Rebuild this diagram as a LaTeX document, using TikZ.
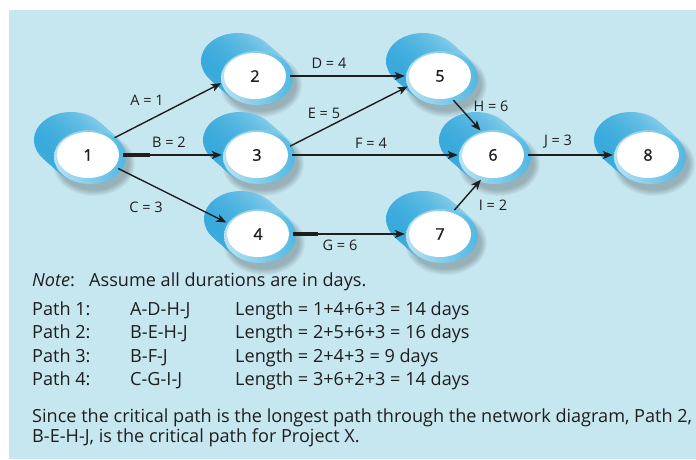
\documentclass[tikz,border=0pt]{standalone}
\usepackage{fontspec}
\setmainfont{Open Sans}
\newfontfamily\digitfont[FakeBold=1.3]{Open Sans}
\usetikzlibrary{arrows.meta,shapes.geometric}
\definecolor{bg}{RGB}{198,230,240}
\definecolor{cylL}{RGB}{58,170,220}
\definecolor{cylR}{RGB}{150,212,236}
\definecolor{rimL}{RGB}{185,226,242}
\definecolor{rimR}{RGB}{80,184,226}
\definecolor{ink}{RGB}{30,30,30}
\tikzset{
  conn/.style={shape=ellipse,minimum width=70pt,minimum height=52pt,inner sep=0pt,font=\digitfont\fontsize{16}{18}\selectfont,text=ink},
  arr/.style={draw=ink,line width=1.4pt,-{Stealth[length=10pt,width=8pt,inset=2.5pt]}},
  thick seg/.style={draw=ink,line width=3.4pt},
  lab/.style={font=\fontsize{14.5}{16}\selectfont,text=ink,inner sep=0pt},
  txt/.style={font=\fontsize{18.1}{20}\selectfont,text=ink,inner sep=0pt,anchor=base west},
}
\newcommand\cylnode[4]{%
  \begin{scope}[shift={(#2,#3)}]
    \foreach \s in {0,...,6} \fill[black,opacity=0.035] (6,9) ellipse [x radius=35pt+\s pt, y radius=26pt+\s pt];
    \foreach \t in {0,0.0625,...,1.01} \shade[left color=cylL,right color=cylR] ({-17+17*\t},{-15+15*\t}) ellipse [x radius=37pt,y radius=28pt];
    \shade[left color=rimL,right color=rimR] (2,2) ellipse [x radius=36pt,y radius=27pt];
    \fill[white] (0,0) ellipse [x radius=31pt,y radius=23pt];
  \end{scope}
  \node[conn] (#1) at (#2,#3) {#4};
}
\begin{document}
\begin{tikzpicture}[x=1pt,y=-1pt]
\useasboundingbox (0,0) rectangle (696,459);
\fill[white] (0,0) rectangle (696,459);
\fill[bg] (9,10) rectangle (696,459);

\cylnode{n1}{88}{155}{1}
\cylnode{n2}{255}{76}{2}
\cylnode{n3}{257}{155}{3}
\cylnode{n4}{258}{234}{4}
\cylnode{n5}{440}{76}{5}
\cylnode{n6}{493}{155}{6}
\cylnode{n7}{440}{234}{7}
\cylnode{n8}{648}{155}{8}

\draw[arr] (n1.33) -- (n2.192);
\draw[arr] (n1.0) -- (n3.180);
\draw[thick seg] (n1.0) -- ++(27,0);
\draw[arr] (n1.336) -- (n4.160);
\draw[arr] (n2.0) -- (n5.180);
\draw[arr] (n3.15) -- (n5.198);
\draw[arr] (n3.0) -- (n6.180);
\draw[arr] (n4.0) -- (n7.180);
\draw[thick seg] (n4.0) -- ++(25,0);
\draw[arr] (n5.299) -- (n6.117);
\draw[arr] (n7.59) -- (n6.244);
\draw[arr] (n6.0) -- (n8.180);

\node[lab] (lA) at (147,100) {A = 1};
\node[lab] (lB) at (169,142) {B = 2};
\node[lab] (lC) at (146,207) {C = 3};
\node[lab] (lD) at (329,63) {D = 4};
\node[lab] (lE) at (324,113) {E = 5};
\node[lab] (lF) at (371,143) {F = 4};
\node[lab] (lG) at (340,245) {G = 6};
\node[lab] (lH) at (491,106) {H = 6};
\node[lab] (lI) at (493,205) {I = 2};
\node[lab] (lJ) at (558,142) {J = 3};

\node[txt] (note) at (32,286) {\textit{Note}:};
\node[txt] (assume) at (89,286) {Assume all durations are in days.};
\node[txt] (p1) at (32,315) {Path 1:};
\node[txt] (p1a) at (130,315) {A-D-H-J};
\node[txt] (p1b) at (235,315) {Length = 1+4+6+3 = 14 days};
\node[txt] (p2) at (32,338) {Path 2:};
\node[txt] (p2a) at (130,338) {B-E-H-J};
\node[txt] (p2b) at (235,338) {Length = 2+5+6+3 = 16 days};
\node[txt] (p3) at (32,362) {Path 3:};
\node[txt] (p3a) at (130,362) {B-F-J};
\node[txt] (p3b) at (235,362) {Length = 2+4+3 = 9 days};
\node[txt] (p4) at (32,385) {Path 4:};
\node[txt] (p4a) at (130,385) {C-G-I-J};
\node[txt] (p4b) at (235,385) {Length = 3+6+2+3 = 14 days};
\node[txt] (since) at (32,422) {Since the critical path is the longest path through the network diagram, Path 2,};
\node[txt] (since2) at (32,442) {B-E-H-J, is the critical path for Project X.};
\end{tikzpicture}
\end{document}
